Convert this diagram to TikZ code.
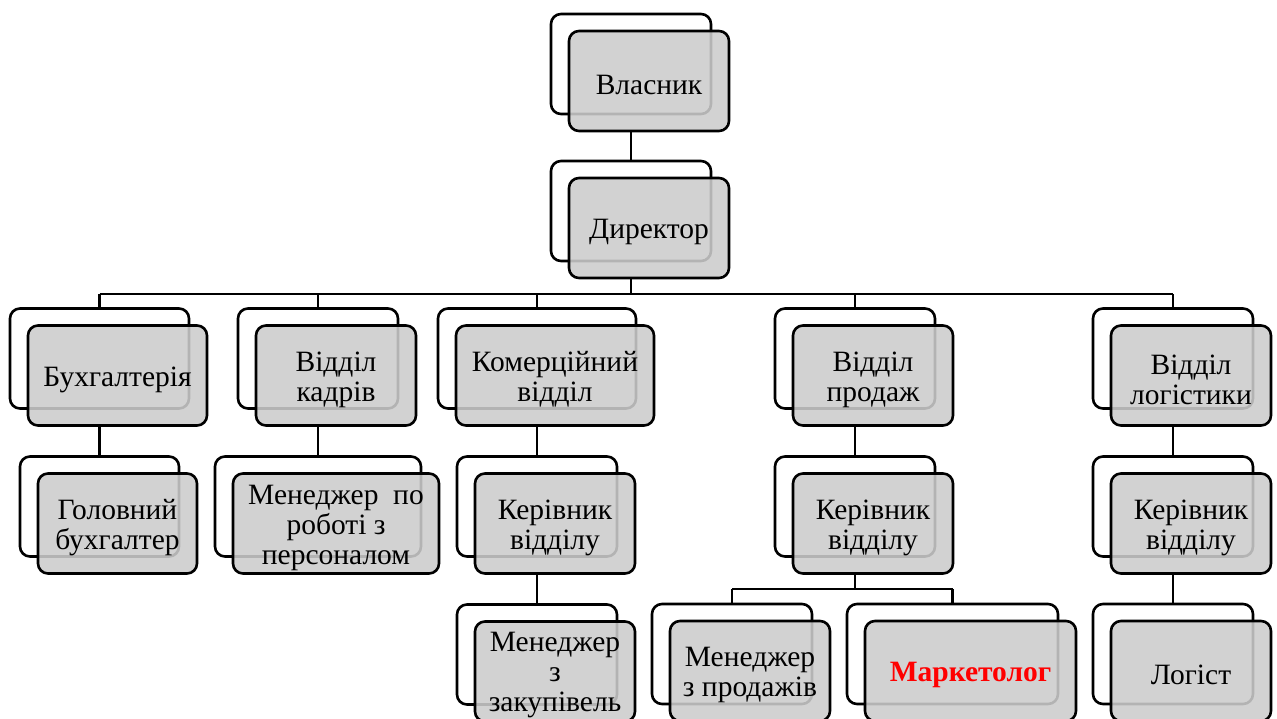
\documentclass[tikz,border=0pt]{standalone}
\usepackage{fontspec}
\setmainfont{Liberation Serif}
\usetikzlibrary{calc}
\newcommand\orgbox[5]{%
  \node[backbox, minimum width=#4pt] (#1b) at (#2,#3) {};
  \node[frontbox, minimum width=#4pt] (#1) at (#2+18,#3+17) {};
  \node[boxtext] (#1t) at ([yshift=-4pt]#1.center) {#5};
}
\begin{document}
\begin{tikzpicture}[x=1pt,y=-1pt,
  backbox/.style={draw=black, line width=2.6pt, rounded corners=10pt, fill=white, minimum height=100pt, inner sep=0pt},
  frontbox/.style={draw=black, line width=2.6pt, rounded corners=10pt, fill=black!20, fill opacity=0.88, minimum height=100pt, inner sep=0pt},
  boxtext/.style={inner sep=0pt, align=center, font=\fontsize{29.5}{30}\selectfont},
  link/.style={line width=2.6pt, draw=black}]
\useasboundingbox (0,0) rectangle (1277,718);
\fill[white] (0,0) rectangle (1277,718);

\orgbox{vl}{631}{64}{160}{Власник}
\orgbox{dir}{631}{211}{160}{Директор}
\orgbox{buh}{99.5}{358.5}{179}{Бухгалтерія}
\orgbox{kad}{318}{358.5}{160}{Відділ\\кадрів}
\orgbox{kom}{537}{358.5}{198}{Комерційний\\відділ}
\orgbox{prod}{855}{358.5}{160}{Відділ\\продаж}
\orgbox{log}{1173}{358.5}{160}{Відділ\\логістики}
\orgbox{gb}{99.5}{506.5}{159}{Головний\\бухгалтер}
\orgbox{mper}{318}{506.5}{206}{Менеджер~ по\\роботі з\\персоналом}
\orgbox{kkom}{537}{506.5}{160}{Керівник\\відділу}
\orgbox{mzak}{537}{654.5}{160}{Менеджер\\з\\закупівель}
\orgbox{kprod}{855}{506.5}{160}{Керівник\\відділу}
\orgbox{mprod}{732}{654}{160}{Менеджер\\з продажів}
\orgbox{mark}{952.5}{654}{211}{\textbf{\color[RGB]{255,0,0}Маркетолог}}
\orgbox{klog}{1173}{506.5}{160}{Керівник\\відділу}
\orgbox{logi}{1173}{654}{160}{Логіст}

\coordinate (bus) at (631,294);
\coordinate (bus2) at (855,589);

\draw[link] (dirb.north) -- (dirb.north |- vl.south);
\draw[link] (dir.south -| dirb.north) -- (bus);
\draw[link] (bus -| buhb.north) -- (bus -| logb.north);
\foreach \c in {buhb,kadb,komb,prodb,logb}{
  \draw[link] (bus -| \c.north) -- (\c.north);
}
\draw[link] (gbb.north) -- (gbb.north |- buh.south);
\draw[link] (mperb.north) -- (mperb.north |- kad.south);
\draw[link] (kkomb.north) -- (kkomb.north |- kom.south);
\draw[link] (mzakb.north) -- (mzakb.north |- kkom.south);
\draw[link] (kprodb.north) -- (kprodb.north |- prod.south);
\draw[link] (klogb.north) -- (klogb.north |- log.south);
\draw[link] (logib.north) -- (logib.north |- klog.south);
\draw[link] (kprod.south -| kprodb.north) -- (bus2);
\draw[link] (bus2 -| mprodb.north) -- (bus2 -| markb.north);
\draw[link] (bus2 -| mprodb.north) -- (mprodb.north);
\draw[link] (bus2 -| markb.north) -- (markb.north);
\end{tikzpicture}
\end{document}
